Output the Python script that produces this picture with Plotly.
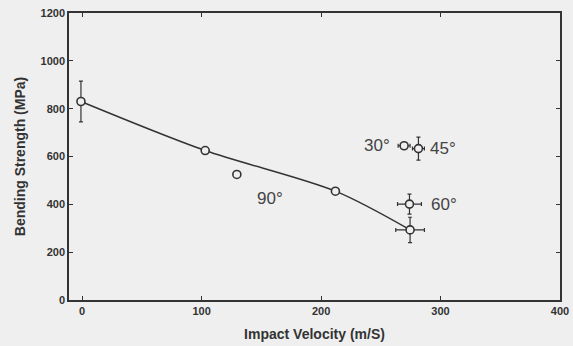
import plotly.graph_objects as go

# Data
x_main = [-1, 103, 212, 274.5]
y_main = [830, 625, 455, 293]
yerr_main = [85, 0, 0, 53]
xerr_main = [0, 0, 0, 12]

x_angle = [129.5, 274, 269.5, 281.5]
y_angle = [525, 401, 645, 633]
yerr_angle = [0, 42, 8, 48]
xerr_angle = [0, 10, 5, 5]
angle_labels = ["90°", "60°", "30°", "45°"]
label_x = [157, 303, 247, 302]  # label anchor positions in data units
label_y = [426, 401, 648, 633]

xticks = [0, 100, 200, 300, 400]
yticks = [0, 200, 400, 600, 800, 1000, 1200]

ink = "#333333"
bg = "#efefef"

fig = go.Figure()

fig.add_trace(go.Scatter(
    x=x_main, y=y_main, mode="lines+markers",
    line=dict(shape="spline", color=ink, width=1.5, smoothing=0.85),
    marker=dict(symbol="circle", size=8, color=bg, line=dict(width=1.6, color=ink)),
    error_y=dict(type="data", array=yerr_main, color=ink, thickness=1.2, width=2),
    error_x=dict(type="data", array=xerr_main, color=ink, thickness=1.2, width=2),
    showlegend=False,
))

fig.add_trace(go.Scatter(
    x=x_angle, y=y_angle, mode="markers",
    marker=dict(symbol="circle", size=8, color=bg, line=dict(width=1.6, color=ink)),
    error_y=dict(type="data", array=yerr_angle, color=ink, thickness=1.2, width=2),
    error_x=dict(type="data", array=xerr_angle, color=ink, thickness=1.2, width=2),
    showlegend=False,
))

for t, lx, ly in zip(angle_labels, label_x, label_y):
    fig.add_annotation(x=lx, y=ly, text=t, showarrow=False,
                       font=dict(family="Liberation Sans", size=17, color="#444444"))

axis_common = dict(
    showline=True, linecolor=ink, linewidth=1.5, mirror="ticks",
    ticks="inside", ticklen=4, tickcolor=ink, tickwidth=1.2,
    showgrid=False, zeroline=False, automargin=False,
    tickfont=dict(family="Liberation Sans", size=11, color=ink, weight="bold"),
)

fig.update_xaxes(range=[-11, 400], tickvals=xticks, ticktext=[str(v) for v in xticks],
                 title=dict(text="Impact Velocity (m/S)", standoff=13,
                            font=dict(family="Liberation Sans", size=14, color=ink, weight="bold")),
                 **axis_common)
fig.update_yaxes(range=[0, 1200], tickvals=yticks, ticktext=[str(v) for v in yticks],
                 title=dict(text="Bending Strength (MPa)", standoff=12,
                            font=dict(family="Liberation Sans", size=14, color=ink, weight="bold")),
                 **axis_common)

fig.update_layout(
    width=573, height=346,
    margin=dict(l=69, r=13, t=13, b=46),
    paper_bgcolor=bg, plot_bgcolor=bg,
)

fig.write_html("out.html")
